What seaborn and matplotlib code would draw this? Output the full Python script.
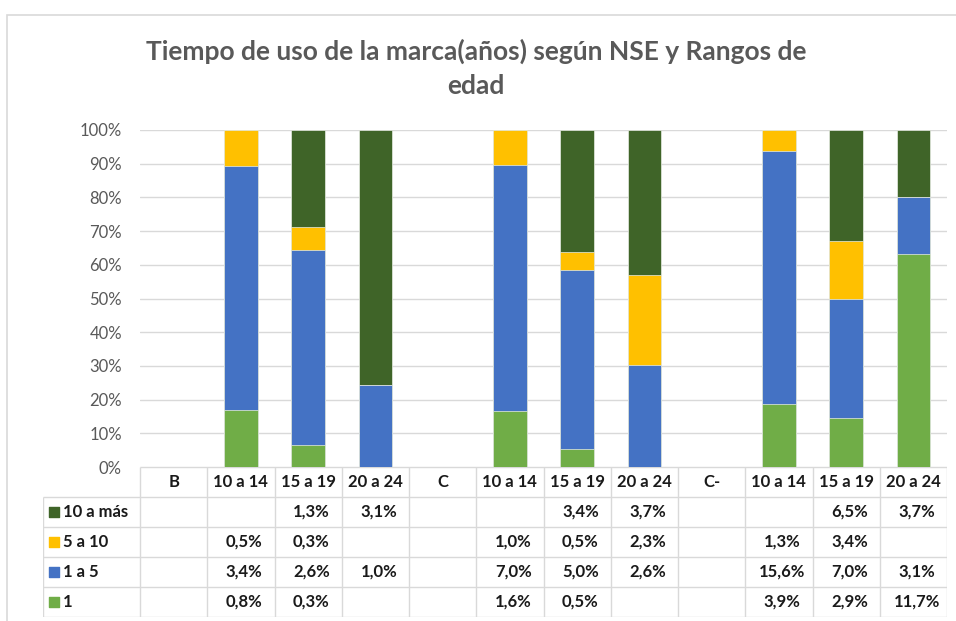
import numpy as np
import pandas as pd
import matplotlib
matplotlib.use('Agg')
import matplotlib.pyplot as plt
from matplotlib.patches import Rectangle
import seaborn as sns

# data (share of total, %)
columns = ["B", "10 a 14", "15 a 19", "20 a 24",
           "C", "10 a 14", "15 a 19", "20 a 24",
           "C-", "10 a 14", "15 a 19", "20 a 24"]
series = ["1", "1 a 5", "5 a 10", "10 a más"]   # bottom -> top
v_1 = [np.nan, 0.8, 0.3, np.nan, np.nan, 1.6, 0.5, np.nan, np.nan, 3.9, 2.9, 11.7]
v_1a5 = [np.nan, 3.4, 2.6, 1.0, np.nan, 7.0, 5.0, 2.6, np.nan, 15.6, 7.0, 3.1]
v_5a10 = [np.nan, 0.5, 0.3, np.nan, np.nan, 1.0, 0.5, 2.3, np.nan, 1.3, 3.4, np.nan]
v_10mas = [np.nan, np.nan, 1.3, 3.1, np.nan, np.nan, 3.4, 3.7, np.nan, np.nan, 6.5, 3.7]
colors = ["#70AD47", "#4472C4", "#FFC000", "#3F6428"]

title = "Tiempo de uso de la marca(años) según NSE y Rangos de\nedad"

sns.set_style("white")
plt.rcParams['font.family'] = ['Lato', 'DejaVu Sans']

W, H = 956, 621
fig = plt.figure(figsize=(W / 100, H / 100), dpi=100)

# outer chart border
fig.patches.append(Rectangle((7 / W, -0.1), 1.2, 1.1 - 15 / H, transform=fig.transFigure,
                             fill=False, edgecolor="#D9D9D9", linewidth=1.2))

fig.text(476 / W, 1 - 68 / H, title, ha="center", va="center", fontsize=19,
         fontweight="bold", color="#595959", linespacing=1.5)

# ---- stacked 100% bars ----
vals = np.nan_to_num(np.array([v_1, v_1a5, v_5a10, v_10mas]))
totals = vals.sum(axis=0)
cum = np.cumsum(vals, axis=0)
pos = [i for i in range(len(columns)) if totals[i] > 0]

ax = fig.add_axes([140 / W, 1 - 467 / H, 807 / W, 337 / H])
for k in reversed(range(len(series))):
    df = pd.DataFrame({"x": pos, "y": [cum[k, i] / totals[i] * 100 for i in pos]})
    sns.barplot(data=df, x="x", y="y", order=list(range(len(columns))), color=colors[k],
                saturation=1, width=0.5, errorbar=None, edgecolor="#E8EDE4",
                linewidth=0.5, ax=ax, zorder=3)
ax.set_xlim(-0.5, len(columns) - 0.5)
ax.set_ylim(0, 100)
ax.set_yticks(range(0, 101, 10))
ax.set_yticklabels([f"{t}%" for t in range(0, 101, 10)])
ax.tick_params(axis="y", length=0, pad=13, labelsize=12, labelcolor="#595959")
ax.set_xticks([])
ax.set_xlabel("")
ax.set_ylabel("")
ax.grid(axis="y", color="#D9D9D9", linewidth=1, zorder=0)
sns.despine(ax=ax, left=True, bottom=True)
ax.patch.set_alpha(0)

# ---- data table ----
colw = 67.25
left = -0.5 - 97 / colw
n = len(columns)
tx = fig.add_axes([43 / W, 1 - 617 / H, 904 / W, 150 / H])
tx.set_xlim(left, n - 0.5)
tx.set_ylim(5, 0)
tx.axis("off")
lc = "#D9D9D9"
tx.hlines(0, -0.5, n - 0.5, color=lc, linewidth=1)
tx.hlines([1, 2, 3, 4, 5], left, n - 0.5, color=lc, linewidth=1)
tx.vlines([i - 0.5 for i in range(n + 1)], 0, 5, color=lc, linewidth=1)
tx.vlines(left, 1, 5, color=lc, linewidth=1)

tc = "#1A1A1A"
fs = 12
for i, c in enumerate(columns):
    tx.text(i, 0.5, c, ha="center", va="center", fontsize=fs, fontweight="bold", color=tc)

rows = [("10 a más", v_10mas, colors[3]), ("5 a 10", v_5a10, colors[2]),
        ("1 a 5", v_1a5, colors[1]), ("1", v_1, colors[0])]
for r, (name, v, col) in enumerate(rows):
    y = r + 1.5
    tx.scatter([left + 11 / colw], [y], marker="s", s=45, color=col, clip_on=False)
    tx.text(left + 20 / colw, y, name, ha="left", va="center", fontsize=fs,
            fontweight="bold", color=tc)
    for i, val in enumerate(v):
        if not np.isnan(val):
            tx.text(i + 0.05, y, f"{val:.1f}%".replace(".", ","), ha="center", va="center",
                    fontsize=fs, fontweight="bold", color=tc)

fig.savefig("out.png", dpi=100)
